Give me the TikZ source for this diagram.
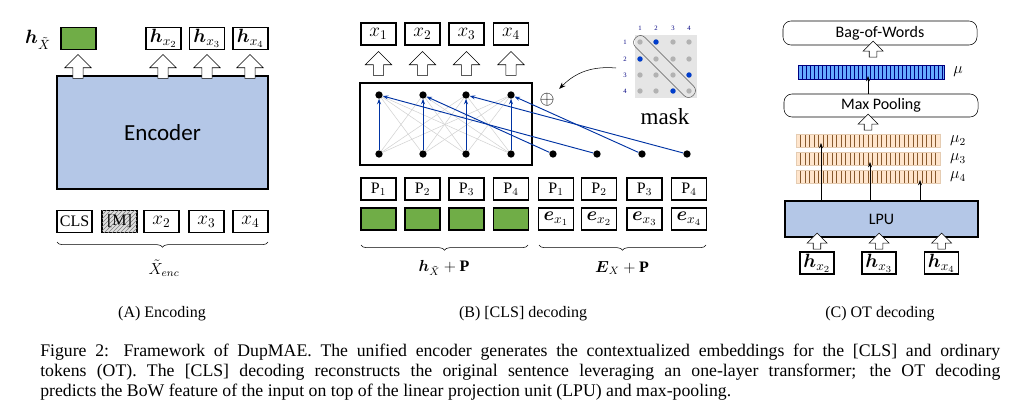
\documentclass[tikz,border=0pt]{standalone}
\usepackage{amsmath}
\usepackage{fontspec}
\setmainfont{Liberation Serif}
\newfontfamily\sansfam{Carlito}
\usetikzlibrary{shapes.arrows,patterns,arrows.meta,decorations.pathreplacing}
\begin{document}
\begin{tikzpicture}[x=0.75pt,y=-0.75pt,
 box/.style={draw,thick,fill=white,minimum width=26.25pt,minimum height=16.5pt,inner sep=0pt,font=\large},
 barr/.style={draw,fill=white,single arrow,shape border rotate=90,minimum width=20pt,single arrow head extend=3.5pt,minimum height=18pt,inner sep=2pt},
 sarr/.style={draw,fill=white,single arrow,shape border rotate=90,minimum width=15pt,single arrow head extend=2.5pt,minimum height=12pt,inner sep=1.3pt},
 dot/.style={circle,fill=black,inner sep=0pt,minimum size=5.5pt},
 gl/.style={gray!35,line width=0.4pt},
 bl/.style={blue!55!black!80!cyan,line width=0.7pt,-{Stealth[length=4pt]}},
 rbox/.style={draw,rounded corners=6pt,fill=white,font=\sansfam\large},
 brace/.style={decoration={brace,mirror,amplitude=4pt},decorate}]
\useasboundingbox (0,0) rectangle (1019,413);
\definecolor{gfill}{RGB}{112,173,71}
\definecolor{efill}{RGB}{180,199,231}
\tikzset{gbox/.style={box,fill=gfill}}
% ---------- (A)
\node[draw,thick,fill=efill,minimum width=158.25pt,minimum height=84.75pt,font=\sansfam\LARGE] (enc) at (162.5,132.5) {Encoder};
\foreach \x/\n in {78/a1,163/a2,207/a3,250/a4}{\node[barr] (\n) at (\x,69) {};}
\node[gbox] (hx) at (78.5,38.5) {};
\node[font=\Large] (hxl) at (38,40) {$\boldsymbol{h}_{\tilde X}$};
\node[box,font=\Large] (h2) at (163.5,38.5) {$\boldsymbol{h}_{x_2}$};
\node[box,font=\Large] (h3) at (207,38.5) {$\boldsymbol{h}_{x_3}$};
\node[box,font=\Large] (h4) at (250.5,38.5) {$\boldsymbol{h}_{x_4}$};
\node[box] (cls) at (74.5,221.5) {CLS};
\node[box,fill=gray!25,postaction={pattern=north east lines,pattern color=gray}] (m) at (119.5,221.5) {[M]};
\node[box,font=\Large] (e2) at (161.5,221.5) {$x_2$};
\node[box,font=\Large] (e3) at (206.5,221.5) {$x_3$};
\node[box,font=\Large] (e4) at (250.5,221.5) {$x_4$};
\draw[brace] (57,242) -- (268,242);
\node[font=\large] (xenc) at (164,268) {$\tilde X_{enc}$};
\node[font=\large] (ca) at (162,314) {(A) Encoding};
% ---------- (B)
\foreach \x [count=\i] in {378.5,422.5,466.5,511}{
 \node[box,font=\Large] (o\i) at (\x,34) {$x_\i$};
 \node[barr] (b\i) at (\x,66) {};
 \node[box] (p\i) at (\x,189) {P$_\i$};
 \node[gbox] (g\i) at (\x,219) {};
}
\foreach \x [count=\i] in {556,599,644.5,689}{
 \node[box] (q\i) at (\x,189) {P$_\i$};
 \node[box,font=\Large] (f\i) at (\x,219) {$\boldsymbol{e}_{x_\i}$};
}
\draw[thick] (360,83) rectangle (532,165);
\foreach \x [count=\i] in {379,423,466,511}{
 \node[dot] (t\i) at (\x,95) {};
 \node[dot] (d\i) at (\x,154) {};
}
\foreach \x [count=\i] in {553,597,642,687}{\node[dot] (u\i) at (\x,154) {};}
\foreach \i in {1,...,4}{\foreach \j in {1,...,4}{\draw[gl] (d\i) -- (t\j);}}
\foreach \i in {1,...,4}{\draw[bl] (d\i) -- (t\i);}
\draw[bl] (u1) -- (t2);
\draw[bl] (u2) -- (t1);
\draw[bl] (u3) -- (t4);
\draw[bl] (u4) -- (t3);
\draw[brace] (361,245) -- (528,245);
\draw[brace] (539,245) -- (706,245);
\node[font=\large] (lb1) at (444,268) {$\boldsymbol{h}_{\tilde X}+\mathbf{P}$};
\node[font=\large] (lb2) at (622,268) {$\boldsymbol{E}_{X}+\mathbf{P}$};
% mask
\fill[gray!20] (635,35) rectangle (697,98);
\foreach \x [count=\c] in {640,656,673,689}{
 \node[font=\tiny,text=blue!50!black] at (\x,28) {\c};
 \foreach \y [count=\r] in {42,59,75,91}{\fill[gray!60] (\x,\y) circle (2pt);}
}
\foreach \y [count=\r] in {42,59,75,91}{\node[font=\tiny,text=blue!50!black] at (625,\y) {\r};}
\foreach \x/\y in {656/42,640/59,689/75,673/91}{\fill[blue!70!cyan!80!black] (\x,\y) circle (2pt);}
\node[draw,gray!70!black,rounded corners=4.5pt,rotate=-45,minimum width=61pt,minimum height=10pt] (diag) at (664.5,66.5) {};
\node (mask) at (665,117) {\LARGE mask};
\node (oplus) at (547,100) {\Large$\oplus$};
\coordinate (mk) at (616,68);
\draw[-{Stealth[length=5pt]}] (mk) to[bend right=25] (oplus.north east);
\node[font=\large] (cb) at (523,314) {(B) [CLS] decoding};
% ---------- (C)
\node[rbox,minimum width=145.5pt,minimum height=18pt] (bow) at (880,33) {Bag-of-Words};
\node[sarr] (s1) at (873,51) {};
\fill[blue!55!cyan!60!white] (798,65) rectangle (944,79);
\foreach \k in {0,...,36}{\draw[blue!50!black,line width=0.3pt] (798+\k*4,65) -- (798+\k*4,79);}
\draw[blue!50!black] (798,65) rectangle (944,79);
\node[font=\large] (mu) at (958,72) {$\mu$};
\node[rbox,minimum width=145.5pt,minimum height=17.25pt] (mp) at (881,105.5) {Max Pooling};
\node[sarr] (s2) at (868,124) {};
\coordinate (mut) at (868,76);
\draw[-{Stealth[length=4pt]}] (mp.north -| mut) -- (mut);
\foreach \y/\l in {134/2,152/3,170/4}{
 \fill[orange!20] (796,\y) rectangle (940,\y+13);
 \foreach \k in {0,...,32}{\draw[brown!70!black,line width=0.25pt] (796+\k*4.5,\y) -- (796+\k*4.5,\y+13);}
 \draw[brown!40] (796,\y) rectangle (940,\y+13);
 \node[font=\large] (m\l) at (958,\y+7) {$\mu_\l$};
}
\node[draw,thick,fill=efill,minimum width=144.75pt,minimum height=27pt,font=\sansfam\large] (lpu) at (881.5,219) {LPU};
\coordinate (c2) at (821,143); \coordinate (c3) at (870,162); \coordinate (c4) at (920,180);
\foreach \c in {c2,c3,c4}{\draw[-{Stealth[length=4pt]}] (lpu.north -| \c) -- (\c);}
\foreach \x [count=\i from 2] in {817,879,941.5}{
 \node[sarr] (r\i) at (\x,243) {};
 \node[box,minimum width=25.5pt,font=\Large] (hh\i) at (\x,263) {$\boldsymbol{h}_{x_\i}$};
}
\node[font=\large] (cc) at (880,314) {(C) OT decoding};
% caption
\node[anchor=base west,font=\fontsize{13.3}{16}\selectfont,inner sep=0] (cap1) at (40,356) {\makebox[720pt][s]{Figure 2: Framework of DupMAE. The unified encoder generates the contextualized embeddings for the [CLS] and ordinary}};
\node[anchor=base west,font=\fontsize{13.3}{16}\selectfont,inner sep=0] (cap2) at (40,376) {\makebox[720pt][s]{tokens (OT). The [CLS] decoding reconstructs the original sentence leveraging an one-layer transformer; the OT decoding}};
\node[anchor=base west,font=\fontsize{13.3}{16}\selectfont,inner sep=0] (cap3) at (40,396) {predicts the BoW feature of the input on top of the linear projection unit (LPU) and max-pooling.};
\end{tikzpicture}
\end{document}
